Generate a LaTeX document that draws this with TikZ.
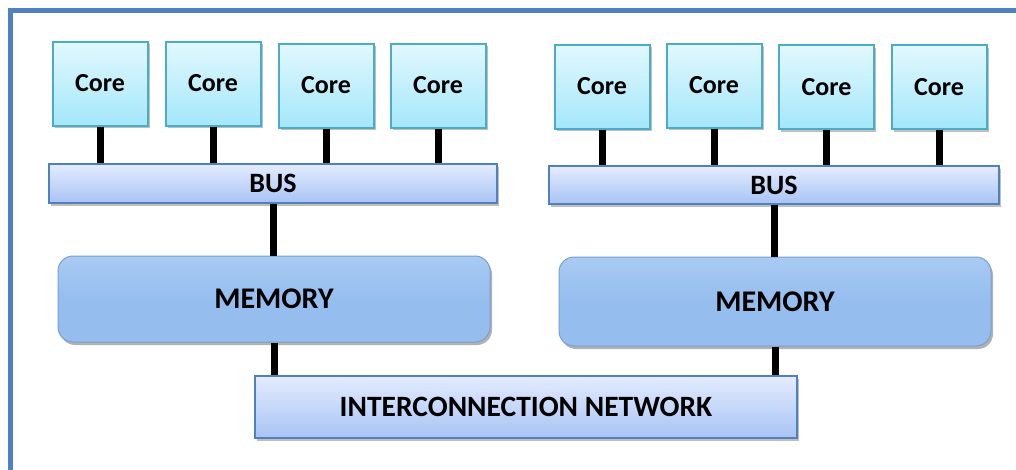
\documentclass[tikz,border=0pt]{standalone}
\usepackage{fontspec}
\setmainfont{Carlito}
\usetikzlibrary{shadows}
\definecolor{frameblue}{HTML}{4F81BD}
\definecolor{coreedge}{HTML}{4BACC6}
\definecolor{coretop}{HTML}{E2F8FE}
\definecolor{corebot}{HTML}{A4E7FA}
\definecolor{bustop}{HTML}{E4ECFE}
\definecolor{busbot}{HTML}{A8C3F5}
\definecolor{busedge}{HTML}{4F81BD}
\definecolor{memfill}{HTML}{95BDEE}
\definecolor{memtop}{HTML}{A9CBF3}
\definecolor{memedge}{HTML}{7A9FD0}
\tikzset{
  corebox/.style={draw=coreedge, line width=2pt, top color=coretop, bottom color=corebot,
    minimum width=95pt, minimum height=84pt, inner sep=0pt,
    font=\fontsize{26}{28}\selectfont\bfseries,
    drop shadow={shadow xshift=2pt, shadow yshift=-2.5pt, opacity=0.25, fill=black}},
  busbox/.style={draw=busedge, line width=1.6pt, top color=bustop, bottom color=busbot,
    inner sep=0pt, font=\fontsize{28}{30}\selectfont\bfseries,
    drop shadow={shadow xshift=2pt, shadow yshift=-2.5pt, opacity=0.25, fill=black}},
  membox/.style={draw=memedge, line width=1pt, rounded corners=15pt, top color=memtop, bottom color=memfill,
    middle color=memfill, inner sep=0pt, font=\fontsize{30}{32}\selectfont\bfseries,
    drop shadow={shadow xshift=2pt, shadow yshift=-3pt, opacity=0.3, fill=black}},
  wire/.style={line width=7pt, black}
}
\begin{document}
\begin{tikzpicture}[x=1pt,y=-1pt]
\useasboundingbox (0,0) rectangle (1016,469);
\fill[white] (0,0) rectangle (1016,469);
\begin{scope}
\clip (0,0) rectangle (1016,469);
\draw[frameblue, line width=5pt] (10,10) rectangle (1040,490);
\end{scope}
% cores
\node[corebox] (c1) at (100,83.5) {Core};
\node[corebox] (c2) at (213,83.5) {Core};
\node[corebox] (c3) at (326,85.5) {Core};
\node[corebox] (c4) at (438,85.5) {Core};
\node[corebox] (c5) at (602,86.5) {Core};
\node[corebox] (c6) at (714,85.5) {Core};
\node[corebox] (c7) at (826.5,87) {Core};
\node[corebox] (c8) at (939,87) {Core};
% buses
\node[busbox, minimum width=448pt, minimum height=39pt] (b1) at (273,183.5) {BUS};
\node[busbox, minimum width=450pt, minimum height=38pt] (b2) at (774,185) {BUS};
% memories
\node[membox, minimum width=432pt, minimum height=86pt] (m1) at (274,299) {MEMORY};
\node[membox, minimum width=432pt, minimum height=89pt] (m2) at (775,301.5) {MEMORY};
% network
\node[busbox, minimum width=542pt, minimum height=62pt, font=\fontsize{29.5}{31}\selectfont\bfseries] (net) at (526,407) {INTERCONNECTION NETWORK};
% wires
\foreach \c/\b in {c1/b1,c2/b1,c3/b1,c4/b1,c5/b2,c6/b2,c7/b2,c8/b2}
  \draw[wire] (\c.south) -- (\c.south |- \b.north);
\draw[wire] (b1.south) -- (b1.south |- m1.north);
\draw[wire] (b2.south) -- (b2.south |- m2.north);
\draw[wire] (m1.south) -- (m1.south |- net.north);
\draw[wire] (m2.south) -- (m2.south |- net.north);
\end{tikzpicture}
\end{document}
